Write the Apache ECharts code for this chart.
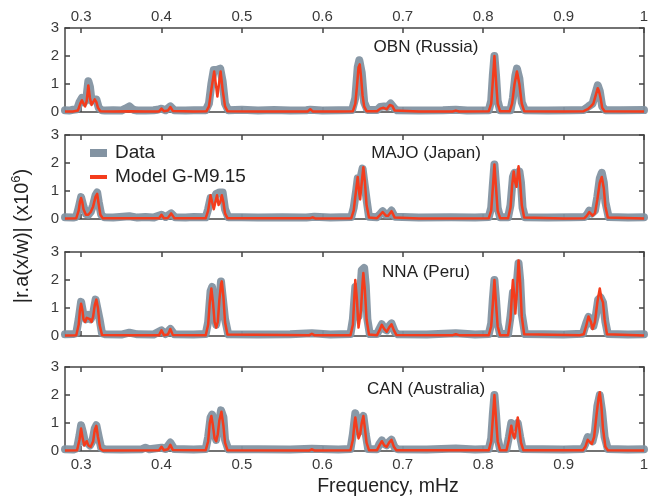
<!DOCTYPE html>
<html>
<head>
<meta charset="utf-8">
<script src="https://cdn.jsdelivr.net/npm/echarts@6/dist/echarts.min.js"></script>
<style>html,body{margin:0;padding:0;background:#fff}#c{width:652px;height:501px}</style>
</head>
<body>
<div id="c"></div>
<script>
// ---------- data ----------
const freqTicks = [0.3, 0.4, 0.5, 0.6, 0.7, 0.8, 0.9, 1.0];
const yTicks = [0, 1, 2, 3];
const stations = ['OBN (Russia)', 'MAJO (Japan)', 'NNA (Peru)', 'CAN (Australia)'];
const seriesNames = ['Data', 'Model G-M9.15'];

const obnData = [[0.28,0.06],[0.285,0.05],[0.29,0.08],[0.295,0.1],[0.298,0.35],[0.301,0.5],[0.304,0.35],[0.307,0.6],[0.309,1.1],[0.311,0.9],[0.313,0.4],[0.316,0.45],[0.319,0.45],[0.322,0.15],[0.326,0.06],[0.33,0.05],[0.34,0.06],[0.35,0.05],[0.355,0.12],[0.36,0.2],[0.365,0.08],[0.37,0.05],[0.38,0.05],[0.39,0.06],[0.395,0.08],[0.4,0.12],[0.405,0.06],[0.411,0.2],[0.416,0.06],[0.43,0.05],[0.44,0.06],[0.455,0.06],[0.459,0.3],[0.462,1.0],[0.465,1.5],[0.469,1.5],[0.473,1.55],[0.476,1.1],[0.479,0.3],[0.483,0.06],[0.5,0.08],[0.52,0.05],[0.54,0.07],[0.56,0.05],[0.58,0.06],[0.585,0.08],[0.6,0.05],[0.62,0.06],[0.637,0.07],[0.641,0.5],[0.644,1.6],[0.646,1.85],[0.649,1.4],[0.652,0.35],[0.656,0.07],[0.668,0.07],[0.672,0.18],[0.677,0.2],[0.681,0.18],[0.685,0.3],[0.689,0.15],[0.693,0.06],[0.72,0.05],[0.75,0.06],[0.766,0.08],[0.78,0.05],[0.807,0.06],[0.81,0.4],[0.812,1.3],[0.814,2.0],[0.816,1.3],[0.818,0.4],[0.821,0.06],[0.834,0.06],[0.837,0.5],[0.84,1.3],[0.842,1.55],[0.845,1.2],[0.848,0.35],[0.852,0.06],[0.88,0.05],[0.91,0.06],[0.925,0.07],[0.931,0.2],[0.936,0.3],[0.94,0.7],[0.9425,0.95],[0.945,0.75],[0.948,0.2],[0.952,0.06],[0.97,0.06],[1.0,0.07]];
const obnModel = [[0.28,0.02],[0.29,0.02],[0.296,0.05],[0.299,0.3],[0.301,0.42],[0.303,0.3],[0.305,0.2],[0.307,0.4],[0.309,0.95],[0.311,0.5],[0.313,0.25],[0.315,0.35],[0.317,0.45],[0.319,0.35],[0.321,0.15],[0.324,0.03],[0.34,0.02],[0.36,0.03],[0.38,0.02],[0.397,0.02],[0.4,0.12],[0.403,0.03],[0.408,0.05],[0.411,0.18],[0.414,0.04],[0.44,0.02],[0.456,0.03],[0.459,0.2],[0.462,0.8],[0.4655,1.45],[0.468,0.9],[0.4695,0.55],[0.471,0.9],[0.4735,1.45],[0.476,0.8],[0.479,0.2],[0.482,0.03],[0.52,0.02],[0.55,0.02],[0.582,0.02],[0.585,0.1],[0.588,0.02],[0.62,0.02],[0.638,0.03],[0.641,0.3],[0.643,0.9],[0.645,1.6],[0.6465,1.7],[0.648,1.3],[0.65,0.6],[0.652,0.2],[0.655,0.03],[0.668,0.03],[0.672,0.12],[0.676,0.15],[0.68,0.1],[0.684,0.25],[0.687,0.22],[0.69,0.05],[0.72,0.02],[0.762,0.02],[0.766,0.05],[0.77,0.02],[0.807,0.03],[0.81,0.3],[0.812,1.1],[0.814,2.0],[0.816,1.1],[0.818,0.3],[0.821,0.03],[0.833,0.03],[0.836,0.3],[0.839,1.0],[0.842,1.45],[0.845,1.0],[0.848,0.3],[0.851,0.03],[0.9,0.02],[0.925,0.03],[0.93,0.1],[0.934,0.2],[0.937,0.3],[0.94,0.6],[0.9425,0.85],[0.944,0.75],[0.946,0.5],[0.948,0.15],[0.951,0.03],[1.0,0.02]];

const majoData = [[0.28,0.06],[0.29,0.05],[0.294,0.08],[0.297,0.4],[0.3,0.78],[0.303,0.45],[0.306,0.18],[0.309,0.15],[0.312,0.25],[0.315,0.5],[0.318,0.85],[0.32,0.95],[0.322,0.6],[0.325,0.15],[0.329,0.06],[0.34,0.05],[0.36,0.1],[0.37,0.05],[0.38,0.07],[0.39,0.05],[0.4,0.15],[0.405,0.07],[0.412,0.2],[0.417,0.06],[0.43,0.05],[0.44,0.07],[0.455,0.06],[0.458,0.35],[0.461,0.75],[0.465,0.7],[0.468,0.9],[0.472,0.95],[0.476,0.95],[0.479,0.35],[0.483,0.06],[0.5,0.06],[0.52,0.05],[0.55,0.06],[0.58,0.05],[0.59,0.08],[0.61,0.05],[0.636,0.07],[0.639,0.4],[0.642,1.0],[0.644,1.45],[0.647,1.4],[0.65,1.8],[0.652,1.85],[0.655,0.7],[0.658,0.08],[0.668,0.06],[0.671,0.15],[0.675,0.28],[0.679,0.15],[0.682,0.15],[0.686,0.3],[0.69,0.08],[0.72,0.05],[0.76,0.06],[0.79,0.05],[0.807,0.07],[0.81,0.4],[0.812,1.2],[0.814,1.95],[0.816,1.2],[0.818,0.4],[0.821,0.06],[0.831,0.06],[0.834,0.5],[0.837,1.5],[0.839,1.65],[0.842,1.4],[0.845,1.7],[0.847,1.3],[0.849,0.4],[0.852,0.06],[0.88,0.05],[0.91,0.06],[0.926,0.07],[0.929,0.15],[0.932,0.3],[0.935,0.2],[0.939,0.3],[0.942,0.8],[0.945,1.45],[0.9475,1.65],[0.95,1.3],[0.952,0.6],[0.956,0.07],[0.98,0.05],[1.0,0.06]];
const majoModel = [[0.28,0.02],[0.294,0.03],[0.297,0.3],[0.2985,0.6],[0.3,0.75],[0.3015,0.6],[0.303,0.35],[0.306,0.15],[0.309,0.15],[0.312,0.25],[0.315,0.45],[0.318,0.8],[0.32,0.9],[0.322,0.5],[0.324,0.15],[0.327,0.03],[0.36,0.03],[0.397,0.03],[0.4,0.15],[0.403,0.03],[0.408,0.04],[0.412,0.2],[0.416,0.03],[0.455,0.03],[0.458,0.3],[0.461,0.85],[0.463,0.6],[0.465,0.35],[0.467,0.6],[0.469,0.85],[0.471,0.5],[0.473,0.6],[0.475,0.85],[0.477,0.6],[0.479,0.2],[0.482,0.03],[0.585,0.03],[0.588,0.06],[0.591,0.02],[0.636,0.03],[0.639,0.3],[0.641,0.8],[0.644,1.5],[0.646,0.9],[0.647,0.7],[0.649,1.3],[0.651,1.85],[0.653,1.3],[0.655,0.5],[0.658,0.05],[0.668,0.03],[0.671,0.12],[0.675,0.25],[0.679,0.12],[0.682,0.12],[0.686,0.28],[0.69,0.05],[0.72,0.02],[0.807,0.03],[0.81,0.3],[0.812,1.1],[0.814,1.95],[0.816,1.1],[0.818,0.3],[0.821,0.03],[0.831,0.03],[0.834,0.4],[0.836,1.2],[0.838,1.7],[0.84,1.3],[0.8415,1.15],[0.843,1.6],[0.844,1.88],[0.846,1.3],[0.848,0.5],[0.851,0.05],[0.9,0.02],[0.926,0.03],[0.929,0.12],[0.932,0.25],[0.934,0.2],[0.936,0.12],[0.939,0.2],[0.942,0.7],[0.945,1.3],[0.9475,1.5],[0.95,1.1],[0.952,0.45],[0.955,0.05],[1.0,0.02]];

const nnaData = [[0.28,0.06],[0.29,0.07],[0.294,0.1],[0.297,0.6],[0.3,1.22],[0.303,0.75],[0.306,0.6],[0.309,0.75],[0.312,0.6],[0.315,0.8],[0.318,1.3],[0.32,1.35],[0.323,0.6],[0.326,0.1],[0.33,0.06],[0.35,0.05],[0.36,0.12],[0.37,0.06],[0.39,0.05],[0.4,0.2],[0.405,0.07],[0.411,0.25],[0.416,0.06],[0.44,0.05],[0.455,0.07],[0.458,0.5],[0.461,1.6],[0.463,1.75],[0.466,0.8],[0.468,0.4],[0.471,0.9],[0.474,1.95],[0.476,1.9],[0.479,0.6],[0.483,0.06],[0.52,0.05],[0.56,0.06],[0.587,0.1],[0.61,0.05],[0.635,0.07],[0.638,0.6],[0.641,1.75],[0.643,1.3],[0.645,0.7],[0.647,1.5],[0.649,2.35],[0.652,2.43],[0.654,1.8],[0.656,0.6],[0.659,0.07],[0.668,0.07],[0.671,0.25],[0.674,0.42],[0.677,0.25],[0.68,0.2],[0.683,0.35],[0.686,0.45],[0.69,0.15],[0.694,0.06],[0.73,0.05],[0.766,0.1],[0.79,0.05],[0.807,0.07],[0.81,0.45],[0.812,1.3],[0.814,2.0],[0.816,1.3],[0.818,0.45],[0.821,0.07],[0.831,0.07],[0.834,0.7],[0.837,1.55],[0.839,1.4],[0.841,1.6],[0.844,2.6],[0.846,2.0],[0.848,0.8],[0.852,0.07],[0.9,0.05],[0.924,0.08],[0.928,0.45],[0.931,0.68],[0.934,0.55],[0.937,0.35],[0.94,0.7],[0.943,1.3],[0.946,1.38],[0.949,1.2],[0.952,0.5],[0.955,0.07],[0.98,0.05],[1.0,0.06]];
const nnaModel = [[0.28,0.02],[0.294,0.03],[0.297,0.4],[0.2985,0.9],[0.3,1.15],[0.3015,0.95],[0.303,0.6],[0.305,0.5],[0.307,0.65],[0.309,0.72],[0.311,0.6],[0.313,0.5],[0.315,0.7],[0.317,1.1],[0.319,1.3],[0.321,1.0],[0.323,0.4],[0.326,0.04],[0.36,0.03],[0.397,0.03],[0.4,0.2],[0.403,0.03],[0.408,0.05],[0.411,0.25],[0.414,0.04],[0.455,0.03],[0.458,0.4],[0.46,1.2],[0.462,1.7],[0.464,1.2],[0.466,0.5],[0.468,0.3],[0.47,0.5],[0.472,1.3],[0.474,1.85],[0.475,1.95],[0.477,1.4],[0.479,0.5],[0.482,0.05],[0.584,0.03],[0.587,0.08],[0.59,0.03],[0.635,0.03],[0.638,0.4],[0.64,1.5],[0.641,2.0],[0.643,1.3],[0.645,0.3],[0.646,0.25],[0.648,0.9],[0.65,1.9],[0.651,2.25],[0.653,1.6],[0.655,0.6],[0.658,0.05],[0.668,0.03],[0.671,0.2],[0.674,0.4],[0.677,0.25],[0.68,0.15],[0.683,0.3],[0.686,0.42],[0.689,0.2],[0.692,0.04],[0.762,0.03],[0.766,0.06],[0.77,0.03],[0.807,0.03],[0.81,0.35],[0.812,1.15],[0.814,2.0],[0.816,1.15],[0.818,0.35],[0.821,0.03],[0.831,0.03],[0.834,0.6],[0.836,1.6],[0.837,2.0],[0.839,1.3],[0.84,0.8],[0.842,1.6],[0.844,2.7],[0.846,1.9],[0.848,0.7],[0.851,0.06],[0.92,0.03],[0.925,0.06],[0.928,0.35],[0.931,0.7],[0.934,0.5],[0.936,0.25],[0.939,0.5],[0.942,1.2],[0.945,1.7],[0.947,1.35],[0.949,1.2],[0.951,0.6],[0.954,0.06],[1.0,0.02]];

const canData = [[0.28,0.06],[0.29,0.05],[0.295,0.1],[0.298,0.55],[0.3,0.92],[0.302,0.7],[0.305,0.3],[0.308,0.3],[0.311,0.2],[0.314,0.35],[0.317,0.8],[0.319,0.92],[0.322,0.5],[0.325,0.1],[0.33,0.06],[0.35,0.05],[0.375,0.06],[0.38,0.12],[0.385,0.06],[0.4,0.12],[0.405,0.07],[0.411,0.3],[0.416,0.07],[0.44,0.05],[0.455,0.07],[0.458,0.5],[0.461,1.2],[0.463,1.3],[0.466,0.6],[0.468,0.4],[0.471,0.9],[0.474,1.45],[0.477,1.2],[0.479,0.4],[0.483,0.06],[0.52,0.06],[0.56,0.05],[0.587,0.08],[0.62,0.05],[0.635,0.07],[0.638,0.6],[0.641,1.35],[0.643,1.1],[0.646,0.7],[0.649,1.1],[0.651,1.25],[0.654,0.6],[0.657,0.07],[0.668,0.06],[0.671,0.25],[0.674,0.38],[0.677,0.25],[0.68,0.2],[0.683,0.32],[0.686,0.4],[0.69,0.12],[0.694,0.06],[0.73,0.05],[0.766,0.09],[0.79,0.05],[0.807,0.07],[0.81,0.45],[0.812,1.3],[0.814,2.0],[0.816,1.3],[0.818,0.45],[0.821,0.07],[0.829,0.07],[0.832,0.5],[0.835,1.0],[0.838,0.85],[0.841,0.85],[0.843,1.0],[0.846,0.5],[0.849,0.07],[0.9,0.05],[0.924,0.07],[0.927,0.25],[0.93,0.5],[0.933,0.45],[0.936,0.35],[0.939,0.7],[0.942,1.6],[0.945,2.0],[0.948,1.4],[0.951,0.5],[0.955,0.07],[0.98,0.05],[1.0,0.06]];
const canModel = [[0.28,0.02],[0.295,0.03],[0.298,0.4],[0.3,0.8],[0.302,0.45],[0.304,0.2],[0.307,0.35],[0.309,0.2],[0.312,0.15],[0.315,0.35],[0.317,0.75],[0.319,0.9],[0.321,0.5],[0.324,0.08],[0.327,0.02],[0.397,0.03],[0.4,0.15],[0.403,0.03],[0.408,0.06],[0.411,0.22],[0.414,0.04],[0.455,0.03],[0.458,0.35],[0.46,1.0],[0.462,1.25],[0.464,0.9],[0.466,0.45],[0.468,0.35],[0.47,0.6],[0.472,1.1],[0.4745,1.4],[0.477,0.9],[0.479,0.3],[0.482,0.03],[0.584,0.02],[0.587,0.06],[0.59,0.02],[0.635,0.03],[0.638,0.4],[0.64,1.0],[0.641,1.2],[0.643,0.8],[0.645,0.45],[0.647,0.6],[0.649,1.0],[0.651,1.25],[0.653,0.8],[0.655,0.3],[0.658,0.03],[0.668,0.03],[0.671,0.2],[0.674,0.35],[0.677,0.2],[0.68,0.15],[0.683,0.3],[0.686,0.4],[0.689,0.15],[0.692,0.03],[0.807,0.03],[0.81,0.35],[0.812,1.15],[0.814,2.0],[0.816,1.15],[0.818,0.35],[0.821,0.03],[0.829,0.03],[0.832,0.4],[0.835,0.9],[0.837,0.6],[0.839,0.45],[0.841,0.8],[0.843,1.2],[0.845,0.8],[0.847,0.3],[0.85,0.03],[0.924,0.03],[0.927,0.15],[0.93,0.4],[0.932,0.35],[0.935,0.25],[0.938,0.5],[0.941,1.3],[0.9435,1.9],[0.945,2.1],[0.947,1.6],[0.949,0.8],[0.952,0.15],[0.955,0.03],[1.0,0.02]];

const panelData = [obnData, majoData, nnaData, canData];
const panelModel = [obnModel, majoModel, nnaModel, canModel];

// ---------- layout / style ----------
const FONT = 'Liberation Sans, Arial, sans-serif';
const X_MIN = 0.28, X_MAX = 1.0;
const tops = [28, 135, 252, 367];
const panelH = 84;
const axisColor = '#444444';
const labelColor = '#3a3a3a';
const grayCol = '#8393a2';
const redCol = '#f43c1c';

const grids = [], xAxes = [], yAxes = [], series = [], graphics = [];
const fmtX = v => (Math.abs(v - 1) < 1e-9 ? '1' : (+v).toFixed(1));

for (let i = 0; i < 4; i++) {
  grids.push({ left: 65, width: 579, top: tops[i], height: panelH });
  ['bottom', 'top'].forEach(pos => {
    const showLab = (pos === 'bottom' && i === 3) || (pos === 'top' && i === 0);
    xAxes.push({
      type: 'value', gridIndex: i, position: pos, min: X_MIN, max: X_MAX,
      axisLine: { show: true, onZero: false, lineStyle: { color: axisColor, width: 1.5 } },
      axisTick: { show: true, inside: true, length: 5, customValues: freqTicks, lineStyle: { color: axisColor, width: 1.5 } },
      axisLabel: { show: showLab, customValues: freqTicks, formatter: fmtX, fontSize: 15, color: labelColor, fontFamily: FONT, margin: pos === 'bottom' ? 6 : 4 },
      splitLine: { show: false }
    });
  });
  ['left', 'right'].forEach(pos => {
    yAxes.push({
      type: 'value', gridIndex: i, position: pos, min: yTicks[0], max: yTicks[yTicks.length - 1], interval: 1,
      axisLine: { show: true, onZero: false, lineStyle: { color: axisColor, width: 1.5 } },
      axisTick: { show: true, inside: true, length: 5, lineStyle: { color: axisColor, width: 1.5 } },
      axisLabel: { show: pos === 'left', fontSize: 15, color: labelColor, fontFamily: FONT, margin: 6 },
      splitLine: { show: false }
    });
  });
  series.push({
    name: seriesNames[0], type: 'line', xAxisIndex: 2 * i, yAxisIndex: 2 * i,
    data: panelData[i], symbol: 'none', clip: false,
    itemStyle: { color: grayCol },
    lineStyle: { color: grayCol, width: 8, cap: 'round', join: 'round', opacity: 0.95 }
  });
  series.push({
    name: seriesNames[1], type: 'line', xAxisIndex: 2 * i, yAxisIndex: 2 * i,
    data: panelModel[i], symbol: 'none', clip: false,
    itemStyle: { color: redCol },
    lineStyle: { color: redCol, width: 2.5, join: 'round' }
  });
}

const titleY = [47, 153, 272, 389];
for (let i = 0; i < 4; i++) {
  graphics.push({
    type: 'text', x: 426, y: titleY[i],
    style: { text: stations[i], font: '17px ' + FONT, fill: '#222', align: 'center', verticalAlign: 'middle' }
  });
}
graphics.push({
  type: 'text', x: 388, y: 487,
  style: { text: 'Frequency, mHz', font: '19.5px ' + FONT, fill: '#222', align: 'center', verticalAlign: 'middle' }
});
graphics.push({
  type: 'text', x: 22, y: 236, rotation: Math.PI / 2,
  style: {
    text: '{a||r.a(x/w)| (x10}{s|6}{a|)}',
    align: 'center', verticalAlign: 'middle',
    rich: {
      a: { fontSize: 20, fontFamily: FONT, fill: '#222' },
      s: { fontSize: 13, fontFamily: FONT, fill: '#222', padding: [0, 0, 11, 0] }
    }
  }
});
// legend keys
graphics.push({ type: 'rect', shape: { x: 90, y: 149, width: 17, height: 8 }, style: { fill: grayCol } });
graphics.push({ type: 'text', x: 115, y: 153, style: { text: seriesNames[0], font: '19px ' + FONT, fill: '#222', verticalAlign: 'middle' } });
graphics.push({ type: 'rect', shape: { x: 90, y: 175, width: 17, height: 4 }, style: { fill: redCol } });
graphics.push({ type: 'text', x: 115, y: 177, style: { text: seriesNames[1], font: '19px ' + FONT, fill: '#222', verticalAlign: 'middle' } });

const chart = echarts.init(document.getElementById('c'), null, { renderer: 'canvas' });
chart.setOption({
  animation: false,
  grid: grids,
  xAxis: xAxes,
  yAxis: yAxes,
  series: series,
  graphic: graphics
});
</script>
</body>
</html>
